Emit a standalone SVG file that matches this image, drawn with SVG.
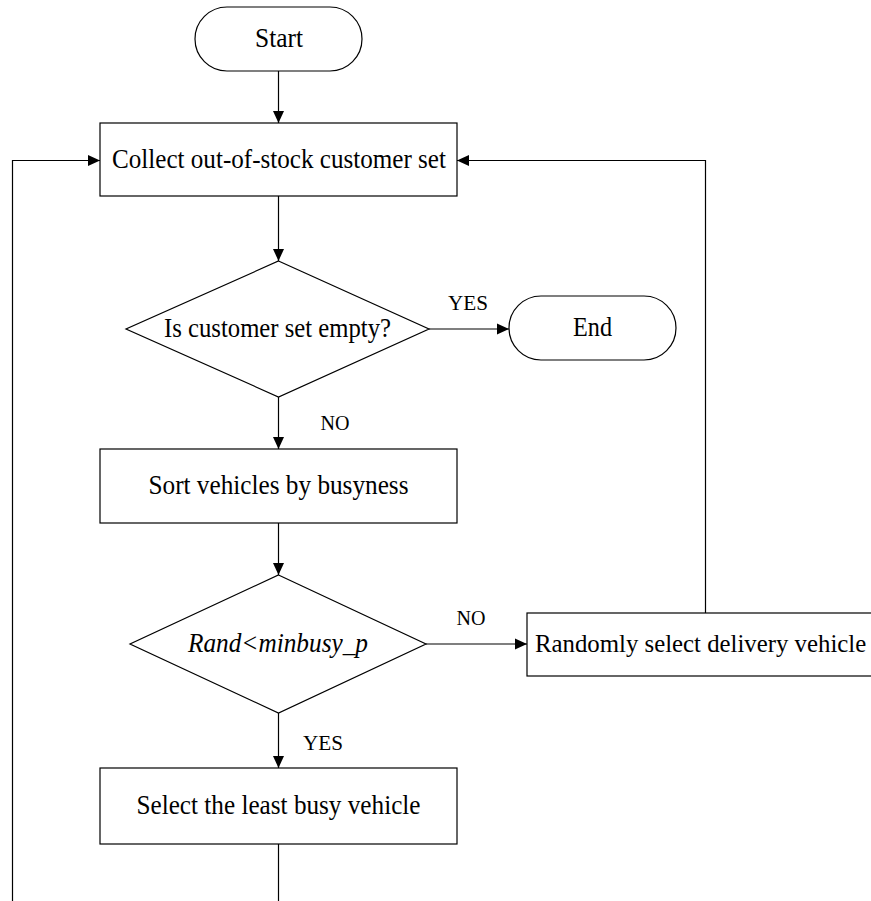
<svg xmlns="http://www.w3.org/2000/svg" width="871" height="901" viewBox="0 0 871 901">
<defs>
<marker id="arr" markerUnits="userSpaceOnUse" markerWidth="13" markerHeight="13" viewBox="0 0 13 13" refX="12" refY="6.5" orient="auto">
<path d="M0,1 L12,6.5 L0,12 Z" fill="#000"/>
</marker>
<style>
.shape{fill:#fff;stroke:#000;stroke-width:1.2}
.line{fill:none;stroke:#000;stroke-width:1.2}
.t{font-family:"Liberation Serif","Times New Roman",serif;font-size:27px;fill:#000;text-anchor:middle}
.lbl{font-family:"Liberation Serif","Times New Roman",serif;font-size:22px;fill:#000;text-anchor:middle}
</style>
</defs>
<rect width="871" height="901" fill="#fff"/>
<g id="connectors">
<path class="line" d="M278.5,71 V123" marker-end="url(#arr)"/>
<path class="line" d="M278.5,196 V261" marker-end="url(#arr)"/>
<path class="line" d="M429,329 H509" marker-end="url(#arr)"/>
<path class="line" d="M278.5,397 V449" marker-end="url(#arr)"/>
<path class="line" d="M278.5,523 V575" marker-end="url(#arr)"/>
<path class="line" d="M426,644 H527" marker-end="url(#arr)"/>
<path class="line" d="M705.5,613 V160.5 H457" marker-end="url(#arr)"/>
<path class="line" d="M278.5,713 V768" marker-end="url(#arr)"/>
<path class="line" d="M278.5,844 V901"/>
<path class="line" d="M12.5,901 V160.5 H100" marker-end="url(#arr)"/>
<text class="lbl" x="468" y="310" textLength="40" lengthAdjust="spacingAndGlyphs">YES</text>
<text class="lbl" x="335" y="430" textLength="29" lengthAdjust="spacingAndGlyphs">NO</text>
<text class="lbl" x="471" y="625" textLength="29" lengthAdjust="spacingAndGlyphs">NO</text>
<text class="lbl" x="323" y="750" textLength="40" lengthAdjust="spacingAndGlyphs">YES</text>
</g>
<g id="start">
<rect class="shape" x="195" y="7" width="167" height="64" rx="32" ry="32"/>
<text class="t" x="279" y="47" textLength="48" lengthAdjust="spacingAndGlyphs">Start</text>
</g>
<g id="collect">
<rect class="shape" x="100" y="123" width="357" height="73"/>
<text class="t" x="279" y="168" textLength="334" lengthAdjust="spacingAndGlyphs">Collect out-of-stock customer set</text>
</g>
<g id="empty-check">
<polygon class="shape" points="278.5,261 429,329 278.5,397 126,329"/>
<text class="t" x="277.5" y="337" textLength="227" lengthAdjust="spacingAndGlyphs">Is customer set empty?</text>
</g>
<g id="end">
<rect class="shape" x="509" y="296" width="167" height="64" rx="32" ry="32"/>
<text class="t" x="592.5" y="336" textLength="39" lengthAdjust="spacingAndGlyphs">End</text>
</g>
<g id="sort">
<rect class="shape" x="100" y="449" width="357" height="74"/>
<text class="t" x="278.5" y="494" textLength="260" lengthAdjust="spacingAndGlyphs">Sort vehicles by busyness</text>
</g>
<g id="rand-check">
<polygon class="shape" points="278.5,575 426,644 278.5,713 130,644"/>
<text class="t" x="278" y="652" font-style="italic" textLength="180" lengthAdjust="spacingAndGlyphs">Rand&lt;minbusy_p</text>
</g>
<g id="random-select">
<rect class="shape" x="527" y="613" width="360" height="63"/>
<text x="535" y="652" font-family="'Liberation Serif','Times New Roman',serif" font-size="24.8" fill="#000">Randomly select delivery vehicle</text>
</g>
<g id="least-busy">
<rect class="shape" x="100" y="768" width="357" height="76"/>
<text class="t" x="278.5" y="814" textLength="284" lengthAdjust="spacingAndGlyphs">Select the least busy vehicle</text>
</g>
</svg>
